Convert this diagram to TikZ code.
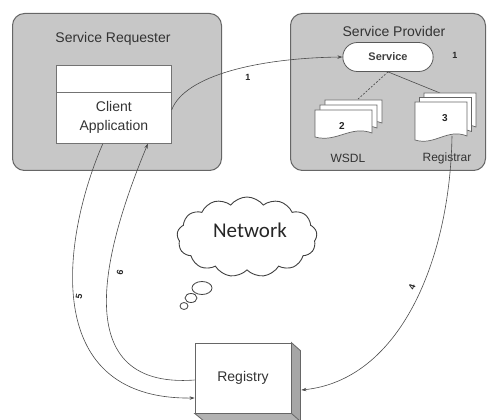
\documentclass[tikz,border=0pt]{standalone}
\usepackage{fontspec}
\setmainfont{Liberation Sans}
\newfontfamily\cloudfont{Carlito}
\usetikzlibrary{shapes.symbols,shapes.misc,arrows.meta}

% one page of a multi-document symbol: x y w h (top-left corner, size)
\newcommand\docpage[4]{%
  \filldraw[docpage] (#1,#2) -- (#1+#3,#2) -- (#1+#3,#2+#4-4)
    .. controls (#1+0.62*#3,#2+#4-12) and (#1+0.38*#3,#2+#4+6) .. (#1,#2+#4) -- cycle;}
% three stacked pages, front page at x y, pages shifted by #5
\newcommand\docstack[5]{%
  \docpage{#1+2*#5}{#2-2*#5}{#3}{#4}%
  \docpage{#1+#5}{#2-#5}{#3}{#4}%
  \docpage{#1}{#2}{#3}{#4}}

\tikzset{
  panel/.style={draw=black!60, line width=1pt, fill=black!22, rounded corners=12pt, anchor=north west},
  whitebox/.style={draw=black!55, line width=0.7pt, fill=white, anchor=north west, inner sep=0pt},
  title/.style={font=\fontsize{14}{16}\selectfont, text=black!80},
  small/.style={font=\fontsize{12}{14}\selectfont, text=black!80},
  pill/.style={rounded rectangle, draw=black!65, line width=0.8pt, fill=white,
    minimum width=97pt, minimum height=29pt, font=\bfseries\fontsize{11}{13}\selectfont, text=black!75},
  docpage/.style={draw=black!60, line width=0.7pt, fill=white},
  conn/.style={draw=black!70, line width=0.6pt},
  arrow/.style={conn, -{Stealth[length=5pt,width=3.5pt]}},
  num/.style={font=\bfseries\fontsize{9}{10}\selectfont, text=black!85, inner sep=1pt},
  bubble/.style={draw=black!75, line width=0.8pt, fill=white},
}

\begin{document}
\begin{tikzpicture}[x=1pt,y=-1pt]
\useasboundingbox (0,0) rectangle (491,420);

% ---- Service Requester ----
\node[panel, minimum width=209pt, minimum height=157pt] (req) at (12,13) {};
\node[title] (reqt) at (113,39) {Service Requester};
\node[whitebox, minimum width=115pt, minimum height=27pt] (cabar) at (56,65) {};
\node[whitebox, minimum width=115pt, minimum height=51pt, align=center,
      font=\fontsize{14}{19}\selectfont, text=black!80] (ca) at (56,92) {Client\\Application};

% ---- Service Provider ----
\node[panel, minimum width=195pt, minimum height=157pt] (prov) at (290,13) {};
\node[title] (provt) at (394,31) {Service Provider};
\node[pill] (svc) at (388,57) {Service};
\node[num] (one) at (455,55) {1};

\coordinate (wsdltop) at (357,100);
\coordinate (regtop) at (440,93);
\coordinate (regbot) at (452,136);
\draw[conn, dash pattern=on 2pt off 1.5pt] (svc.south) -- (wsdltop);
\draw[conn] (svc.south) -- (regtop);

\docstack{315}{110}{57}{27}{5}
\docstack{415}{102}{52}{38}{4.5}
\node[num, font=\bfseries\fontsize{10}{12}\selectfont] (two) at (342,126) {2};
\node[num, font=\bfseries\fontsize{10}{12}\selectfont] (three) at (445,118) {3};
\node[small] (wsdl) at (348,158) {WSDL};
\node[small] (registrar) at (447,158) {Registrar};

% ---- Network cloud ----
\node[cloud, cloud puffs=13, cloud puff arc=105, aspect=1.75, draw=black!75, line width=0.9pt,
      fill=white, minimum width=140pt, minimum height=80pt] (net) at (247,237) {};
\node[font=\cloudfont\fontsize{21}{24}\selectfont, text=black!85] (nett) at (250,230) {Network};
\draw[bubble] (202,288) ellipse (10 and 6.5);
\draw[bubble] (191,298) ellipse (6 and 4.5);
\draw[bubble] (184,306) ellipse (4 and 3.5);

% ---- Registry (box with depth) ----
\node[draw=black!60, line width=0.8pt, fill=white, minimum width=96pt, minimum height=70pt,
      font=\fontsize{14}{16}\selectfont, text=black!80] (regy) at (243,378) {Registry};
\filldraw[draw=black!60, line width=0.8pt, fill=black!35]
  (regy.north east) -- ++(9,8) -- ++(0,80) -- (regy.south east) -- cycle;
\filldraw[draw=black!60, line width=0.8pt, fill=black!30]
  (regy.south west) -- (regy.south east) -- ++(9,8) -- ++(-96,0) -- cycle;

% ---- message flows ----
\draw[arrow] ([yshift=8pt]ca.east) .. controls (185,75) and (260,58) .. (svc.west);
\node[num] (l1) at (248,77) {1};

\draw[arrow] (regbot) .. controls (450,260) and (400,380) .. ([shift={(10pt,-12pt)}]regy.east);
\node[num, rotate=70] (l4) at (412,287) {4};

\draw[arrow] ([xshift=-11pt]ca.south) .. controls (65,230) and (35,400) .. ([yshift=-20pt]regy.west);
\node[num, rotate=80] (l5) at (79,297) {5};

\draw[arrow] ([yshift=-2pt]regy.west) .. controls (60,390) and (110,235) .. ([xshift=34pt]ca.south);
\node[num, rotate=80] (l6) at (120,272) {6};
\end{tikzpicture}
\end{document}
